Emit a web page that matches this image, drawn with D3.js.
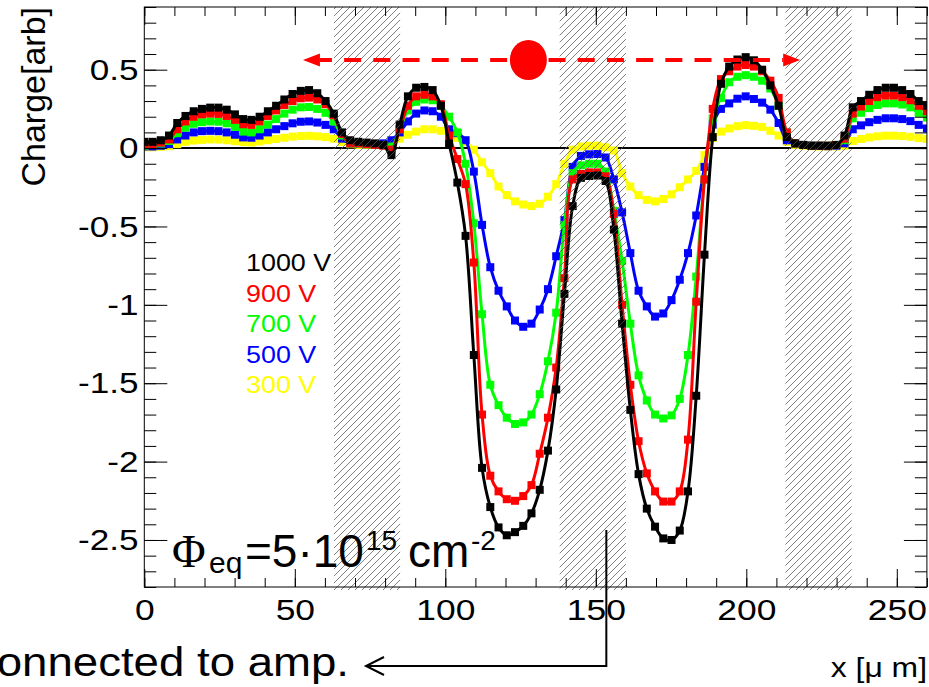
<!DOCTYPE html>
<html lang="en">
<head>
<meta charset="UTF-8" />
<title>Charge profile vs bias voltage</title>
<style>
  body { margin: 0; background: #fff; }
  svg { display: block; font-family: 'Liberation Sans', Arial, sans-serif; }
</style>
</head>
<body>
<svg id="chart"></svg>
<script src="https://d3js.org/d3.v7.min.js"></script>
<script>
// scan positions: 96 points from 0 to 260 um
const scanStep = 260 / 95;

// charge [arb] per scan point, one array per bias voltage
const v1000 = [0.04,0.04,0.05,0.08,0.16,0.205,0.235,0.25,0.258,0.258,
  0.245,0.215,0.185,0.18,0.20,0.235,0.27,0.31,0.345,0.365,
  0.37,0.35,0.30,0.22,0.10,0.05,0.04,0.035,0.03,0.02,
  -0.045,0.15,0.33,0.385,0.39,0.37,0.27,0.03,-0.22,-0.56,
  -1.32,-2.04,-2.29,-2.42,-2.47,-2.45,-2.41,-2.33,-2.18,-1.93,
  -1.54,-0.93,-0.37,-0.19,-0.178,-0.175,-0.21,-0.52,-1.12,-1.67,
  -2.08,-2.30,-2.415,-2.49,-2.50,-2.44,-2.19,-1.58,-0.68,0.07,
  0.41,0.52,0.565,0.58,0.56,0.50,0.40,0.27,0.07,0.03,
  0.02,0.015,0.015,0.015,0.02,0.08,0.26,0.30,0.34,0.37,
  0.385,0.385,0.37,0.345,0.30,0.27];
const v900 = [0.02,0.025,0.035,0.055,0.12,0.17,0.20,0.215,0.22,0.218,
  0.205,0.18,0.152,0.148,0.17,0.205,0.24,0.275,0.30,0.318,
  0.322,0.31,0.28,0.21,0.09,0.03,0.03,0.025,0.02,0.015,
  -0.01,0.12,0.27,0.33,0.34,0.33,0.28,0.08,-0.07,-0.23,
  -0.73,-1.70,-2.09,-2.19,-2.24,-2.25,-2.22,-2.15,-1.95,-1.72,
  -1.40,-0.83,-0.20,-0.165,-0.155,-0.155,-0.18,-0.42,-1.00,-1.51,
  -1.87,-2.075,-2.19,-2.255,-2.255,-2.19,-1.86,-0.98,-0.20,0.25,
  0.44,0.49,0.52,0.53,0.52,0.49,0.43,0.32,0.10,0.03,
  0.02,0.015,0.015,0.015,0.02,0.06,0.22,0.265,0.30,0.325,
  0.335,0.335,0.325,0.305,0.27,0.235];
const v700 = [0.015,0.02,0.03,0.045,0.095,0.13,0.155,0.165,0.17,0.168,
  0.158,0.135,0.105,0.10,0.12,0.15,0.185,0.22,0.245,0.26,
  0.262,0.25,0.225,0.17,0.08,0.03,0.03,0.025,0.02,0.02,
  0.01,0.12,0.24,0.295,0.31,0.305,0.27,0.20,0.10,-0.10,
  -0.48,-1.06,-1.51,-1.64,-1.72,-1.76,-1.75,-1.70,-1.57,-1.36,
  -1.05,-0.49,-0.16,-0.11,-0.10,-0.10,-0.15,-0.40,-0.72,-1.12,
  -1.45,-1.61,-1.70,-1.725,-1.705,-1.60,-1.32,-0.82,-0.20,0.19,
  0.32,0.42,0.455,0.465,0.455,0.43,0.38,0.27,0.10,0.03,
  0.02,0.015,0.015,0.015,0.02,0.05,0.19,0.225,0.255,0.275,
  0.285,0.285,0.278,0.26,0.225,0.195];
const v500 = [0.01,0.01,0.015,0.025,0.055,0.08,0.10,0.108,0.11,0.108,
  0.10,0.085,0.068,0.066,0.08,0.10,0.12,0.14,0.158,0.168,
  0.17,0.163,0.148,0.12,0.06,0.03,0.03,0.025,0.025,0.03,
  0.05,0.10,0.17,0.22,0.24,0.235,0.20,0.12,0.095,0.05,
  -0.15,-0.49,-0.76,-0.91,-1.01,-1.10,-1.14,-1.12,-1.03,-0.90,
  -0.69,-0.46,-0.12,-0.05,-0.04,-0.038,-0.06,-0.20,-0.41,-0.67,
  -0.91,-1.01,-1.075,-1.055,-0.97,-0.84,-0.67,-0.43,-0.12,0.15,
  0.25,0.285,0.315,0.33,0.313,0.29,0.245,0.16,0.05,0.03,
  0.02,0.015,0.015,0.012,0.015,0.03,0.12,0.145,0.165,0.18,
  0.19,0.19,0.185,0.172,0.148,0.125];
const v300 = [0.005,0.005,0.008,0.012,0.025,0.04,0.048,0.052,0.055,0.054,
  0.05,0.044,0.038,0.036,0.042,0.05,0.058,0.066,0.073,0.077,
  0.078,0.075,0.07,0.06,0.04,0.025,0.02,0.02,0.02,0.025,
  0.04,0.06,0.085,0.105,0.12,0.12,0.11,0.095,0.065,0.04,
  -0.01,-0.09,-0.16,-0.245,-0.30,-0.34,-0.36,-0.37,-0.355,-0.31,
  -0.23,-0.10,-0.01,0.01,0.015,0.015,0.005,-0.015,-0.16,-0.245,
  -0.30,-0.33,-0.34,-0.325,-0.295,-0.25,-0.20,-0.145,-0.045,0.065,
  0.105,0.125,0.14,0.146,0.142,0.135,0.11,0.08,0.04,0.02,
  0.015,0.012,0.01,0.01,0.01,0.015,0.045,0.058,0.068,0.075,
  0.079,0.079,0.077,0.072,0.064,0.058];

// legend entries, top to bottom
const legendLabels = ['1000 V', '900 V', '700 V', '500 V', '300 V'];
const legendColors = ['#000000', '#ff0000', '#00ff00', '#0000ff', '#ffff00'];

// hatched strip regions [from, to] in um
const strips = [[63, 85], [138, 160], [213, 235]];

// axes
const xMajorTicks = [0, 50, 100, 150, 200, 250];
const xTickLabels = ['0', '50', '100', '150', '200', '250'];
const yMajorTicks = [-2.5, -2, -1.5, -1, -0.5, 0, 0.5];
const yTickLabels = ['-2.5', '-2', '-1.5', '-1', '-0.5', '0', '0.5'];

function getConfig() {
  let width = 929;
  let height = 687;
  let margin = { top: 7, left: 144.3, right: 2.1, bottom: 100 };
  let container = d3.select('#chart').attr('width', width).attr('height', height);
  return { width, height, margin, container };
}

function getScales(config) {
  let { width, height, margin } = config;
  let xScale = d3.scaleLinear().domain([0, 260]).range([margin.left, width - margin.right]);
  let yScale = d3.scaleLinear().domain([-2.8, 0.9]).range([height - margin.bottom, margin.top]);
  return { xScale, yScale };
}

// text with a horizontal stretch, like the original picture
function stretchText(g, x, y, str, size, sx, anchor, fill) {
  return g.append('text')
    .attr('transform', `translate(${x},${y}) scale(${sx},1)`)
    .attr('text-anchor', anchor)
    .attr('font-size', size)
    .attr('fill', fill || '#000')
    .text(str);
}

function drawCurves(config, scales) {
  let { container } = config;
  let { xScale, yScale } = scales;
  let [x0, x1] = xScale.range();
  let [y0, y1] = yScale.range();

  container.append('clipPath').attr('id', 'frameClip')
    .append('rect').attr('x', x0).attr('y', y1).attr('width', x1 - x0).attr('height', y0 - y1);

  // zero line sits below the curves
  container.append('line')
    .attr('x1', x0).attr('x2', x1)
    .attr('y1', yScale(0)).attr('y2', yScale(0))
    .attr('stroke', '#000').attr('stroke-width', 2);

  let body = container.append('g').attr('clip-path', 'url(#frameClip)');
  let line = d3.line()
    .x((d, i) => xScale(i * scanStep))
    .y((d) => yScale(d))
    .curve(d3.curveCatmullRom.alpha(0.5));

  // draw low voltage first so 1000 V ends on top
  let drawOrder = [
    { values: v300, color: '#ffff00' },
    { values: v500, color: '#0000ff' },
    { values: v700, color: '#00ff00' },
    { values: v900, color: '#ff0000' },
    { values: v1000, color: '#000000' },
  ];
  let ms = 8;
  drawOrder.forEach((s) => {
    let g = body.append('g');
    g.append('path')
      .attr('d', line(s.values))
      .attr('fill', 'none')
      .attr('stroke', s.color)
      .attr('stroke-width', 3);
    g.selectAll('rect')
      .data(s.values)
      .enter()
      .append('rect')
      .attr('x', (d, i) => xScale(i * scanStep) - ms / 2)
      .attr('y', (d) => yScale(d) - ms / 2)
      .attr('width', ms)
      .attr('height', ms)
      .attr('fill', s.color);
  });
}

function drawStrips(config, scales) {
  let { container } = config;
  let { xScale, yScale } = scales;
  let pattern = container.append('defs').append('pattern')
    .attr('id', 'hatch')
    .attr('patternUnits', 'userSpaceOnUse')
    .attr('width', 7).attr('height', 7);
  pattern.append('path')
    .attr('d', 'M-1,1 l2,-2 M0,7 l7,-7 M6,8 l2,-2')
    .attr('stroke', '#555').attr('stroke-width', 0.75);

  container.append('g').selectAll('rect')
    .data(strips)
    .enter()
    .append('rect')
    .attr('x', (d) => xScale(d[0]))
    .attr('width', (d) => xScale(d[1]) - xScale(d[0]))
    .attr('y', yScale.range()[1])
    .attr('height', yScale.range()[0] - yScale.range()[1] + 3)
    .attr('fill', 'url(#hatch)');
}

function drawAxes(config, scales) {
  let { container, width, height, margin } = config;
  let { xScale, yScale } = scales;
  let left = margin.left;
  let right = width - margin.right;
  let top = margin.top;
  let bottom = height - margin.bottom;

  let xMinor = d3.range(0, 261, 10);
  let yMinor = d3.range(-28, 10).map((k) => k / 10);

  function tidy(g) {
    g.select('.domain').remove();
    g.selectAll('line').attr('stroke', '#000');
  }

  // bottom
  container.append('g').attr('transform', `translate(0,${bottom})`)
    .call(d3.axisBottom(xScale).tickValues(xMinor).tickSize(-9).tickFormat(''))
    .call(tidy);
  let xAxis = container.append('g').attr('transform', `translate(0,${bottom})`)
    .call(d3.axisBottom(xScale).tickValues(xMajorTicks).tickSize(-18).tickPadding(12)
      .tickFormat((d, i) => xTickLabels[i]))
    .call(tidy);
  xAxis.selectAll('text')
    .attr('font-family', 'Liberation Sans, Arial, sans-serif')
    .attr('font-size', 30).attr('fill', '#000')
    .attr('transform', 'scale(1.18,1)');

  // top
  container.append('g').attr('transform', `translate(0,${top})`)
    .call(d3.axisTop(xScale).tickValues(xMinor).tickSize(-9).tickFormat(''))
    .call(tidy);
  container.append('g').attr('transform', `translate(0,${top})`)
    .call(d3.axisTop(xScale).tickValues(xMajorTicks).tickSize(-18).tickFormat(''))
    .call(tidy);

  // left
  container.append('g').attr('transform', `translate(${left},0)`)
    .call(d3.axisLeft(yScale).tickValues(yMinor).tickSize(-12).tickFormat(''))
    .call(tidy);
  let yAxis = container.append('g').attr('transform', `translate(${left},0)`)
    .call(d3.axisLeft(yScale).tickValues(yMajorTicks).tickSize(-23).tickPadding(5)
      .tickFormat((d, i) => yTickLabels[i]))
    .call(tidy);
  yAxis.selectAll('text')
    .attr('font-family', 'Liberation Sans, Arial, sans-serif')
    .attr('font-size', 30).attr('fill', '#000')
    .attr('transform', 'scale(1.17,1)');

  // right
  container.append('g').attr('transform', `translate(${right},0)`)
    .call(d3.axisRight(yScale).tickValues(yMinor).tickSize(-12).tickFormat(''))
    .call(tidy);
  container.append('g').attr('transform', `translate(${right},0)`)
    .call(d3.axisRight(yScale).tickValues(yMajorTicks).tickSize(-23).tickFormat(''))
    .call(tidy);

  // frame
  container.append('rect')
    .attr('x', left).attr('y', top)
    .attr('width', right - left).attr('height', bottom - top)
    .attr('fill', 'none').attr('stroke', '#000').attr('stroke-width', 1);

  // titles
  container.append('text')
    .attr('transform', 'translate(45,7) rotate(-90)')
    .attr('text-anchor', 'end')
    .attr('font-size', 34)
    .text('Charge[arb]');
  stretchText(container, 927, 677, 'x [\u03bc m]', 27, 1.18, 'end');
}

function drawAnnotations(config, scales) {
  let { container } = config;
  let { xScale, yScale } = scales;

  // legend
  legendLabels.forEach((label, i) => {
    stretchText(container, 246, 271 + i * 30.6, label, 24, 1.12, 'start', legendColors[i]);
  });

  // red drift arrow with the moving charge
  let ay = yScale(0.562);
  let tipL = xScale(52.7);
  let tipR = xScale(217.9);
  let head = 17;
  container.append('line')
    .attr('x1', tipL + head).attr('x2', tipR - head)
    .attr('y1', ay).attr('y2', ay)
    .attr('stroke', '#ff0000').attr('stroke-width', 4)
    .attr('stroke-dasharray', '17,12.2').attr('stroke-dashoffset', 5);
  container.append('path')
    .attr('d', `M${tipL},${ay} L${tipL + head},${ay - 6.5} L${tipL + head},${ay + 6.5} Z`)
    .attr('fill', '#ff0000');
  container.append('path')
    .attr('d', `M${tipR},${ay} L${tipR - head},${ay - 6.5} L${tipR - head},${ay + 6.5} Z`)
    .attr('fill', '#ff0000');
  container.append('ellipse')
    .attr('cx', xScale(127.6)).attr('cy', ay)
    .attr('rx', 18.5).attr('ry', 20)
    .attr('fill', '#ff0000');

  // fluence label
  container.append('text').attr('x', 172).attr('y', 567)
    .attr('font-family', 'Liberation Serif, serif').attr('font-size', 46).text('\u03a6');
  container.append('text').attr('x', 209).attr('y', 573).attr('font-size', 30).text('eq');
  container.append('text').attr('x', 245).attr('y', 567).attr('font-size', 46).text('=5\u00b710');
  container.append('text').attr('x', 366).attr('y', 550).attr('font-size', 28).text('15');
  container.append('text').attr('x', 408).attr('y', 567).attr('font-size', 46).text('cm');
  container.append('text').attr('x', 471).attr('y', 550).attr('font-size', 28).text('-2');

  // readout strip pointer
  let px = xScale(153.5);
  container.append('path')
    .attr('d', `M${px},530 L${px},666 L366,666`)
    .attr('fill', 'none').attr('stroke', '#000').attr('stroke-width', 2);
  container.append('path')
    .attr('d', 'M384,657 L366,666 L384,675')
    .attr('fill', 'none').attr('stroke', '#000').attr('stroke-width', 2);
  stretchText(container, 349, 676, 'connected to amp.', 40, 1.14, 'end');
}

function showChart() {
  let config = getConfig();
  let scales = getScales(config);
  drawCurves(config, scales);
  drawStrips(config, scales);
  drawAxes(config, scales);
  drawAnnotations(config, scales);
}

showChart();
</script>
</body>
</html>
